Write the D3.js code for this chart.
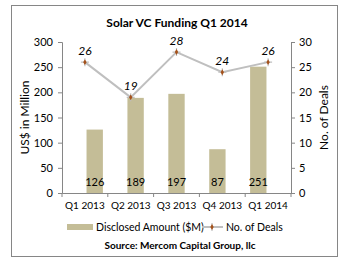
<!DOCTYPE html>
<html>
<head>
  <style>
    body { margin: 0; background: #fff; }
    text { font-family: "Lato", "Open Sans", sans-serif; fill: #000; }
  </style>
</head>
<body>
  <script src="https://d3js.org/d3.v7.min.js"></script>
  <script>
    var quarters = ["Q1 2013", "Q2 2013", "Q3 2013", "Q4 2013", "Q1 2014"];
    var amounts = [126, 189, 197, 87, 251];
    var deals = [26, 19, 28, 24, 26];
    var leftTicks = [0, 50, 100, 150, 200, 250, 300];
    var rightTicks = [0, 5, 10, 15, 20, 25, 30];

    var width = 347, height = 265;
    var svg = d3.select("body").append("svg")
        .attr("width", width)
        .attr("height", height);

    // outer chart border
    svg.append("rect")
        .attr("x", 11.5).attr("y", 5.5)
        .attr("width", 326).attr("height", 251)
        .attr("fill", "none").attr("stroke", "#868686");

    var pLeft = 62, pRight = 291, pTop = 42, pBottom = 193;

    var x = d3.scaleBand().domain(quarters).range([pLeft, pRight]).padding(0.6);
    var xOuter = d3.scaleBand().domain(quarters).range([pLeft, pRight]);
    var y = d3.scaleLinear().domain([0, 300]).range([pBottom, pTop]);
    var y2 = d3.scaleLinear().domain([0, 30]).range([pBottom, pTop]);

    var barColor = "#c4bd97", lineColor = "#bfbfbf", axisColor = "#868686";

    svg.append("text")
        .attr("x", 177).attr("y", 27)
        .attr("text-anchor", "middle")
        .style("font-size", "12px").style("font-weight", "bold")
        .text("Solar VC Funding Q1 2014");

    // bars
    svg.selectAll("rect.bar")
        .data(amounts)
      .enter().append("rect")
        .attr("class", "bar")
        .attr("x", (d, i) => x(quarters[i]))
        .attr("width", x.bandwidth())
        .attr("y", d => y(d))
        .attr("height", d => y(0) - y(d))
        .attr("fill", barColor);

    svg.selectAll("text.barlab")
        .data(amounts)
      .enter().append("text")
        .attr("class", "barlab")
        .attr("x", (d, i) => x(quarters[i]) + x.bandwidth() / 2)
        .attr("y", pBottom - 7)
        .attr("text-anchor", "middle")
        .style("font-size", "11px")
        .text(d => d);

    // axes
    var gl = svg.append("g").attr("transform", "translate(" + pLeft + ",0)")
        .call(d3.axisLeft(y).tickValues(leftTicks).tickSize(4).tickPadding(5));
    var gr = svg.append("g").attr("transform", "translate(" + pRight + ",0)")
        .call(d3.axisRight(y2).tickValues(rightTicks).tickSize(4).tickPadding(4));
    var gx = svg.append("g").attr("transform", "translate(0," + pBottom + ")")
        .call(d3.axisBottom(xOuter).tickSize(0).tickPadding(9));
    gx.selectAll(".tick").append("line")
        .attr("x1", xOuter.bandwidth() / 2).attr("x2", xOuter.bandwidth() / 2)
        .attr("y2", 4).attr("stroke", axisColor);
    gx.append("line").attr("x1", pLeft).attr("x2", pLeft).attr("y2", 4).attr("stroke", axisColor);

    [gl, gr, gx].forEach(g => {
      g.attr("font-family", null).attr("font-size", null);
      g.selectAll("path.domain").attr("stroke", axisColor);
      g.selectAll(".tick line").attr("stroke", axisColor);
      g.selectAll(".tick text").style("font-size", "11px").attr("fill", "#000");
    });
    gx.selectAll(".tick text").style("font-size", "10px");

    // axis titles
    svg.append("text")
        .attr("transform", "translate(29," + ((pTop + pBottom) / 2) + ") rotate(-90)")
        .attr("text-anchor", "middle")
        .style("font-size", "12px")
        .text("US$ in Million");
    svg.append("text")
        .attr("transform", "translate(328," + ((pTop + pBottom) / 2) + ") rotate(-90)")
        .attr("text-anchor", "middle")
        .style("font-size", "12px")
        .text("No. of Deals");

    // deals line
    var cx = (d, i) => xOuter(quarters[i]) + xOuter.bandwidth() / 2;
    svg.append("path")
        .datum(deals)
        .attr("fill", "none")
        .attr("stroke", lineColor)
        .attr("stroke-width", 2)
        .attr("d", d3.line().x(cx).y(d => y2(d)));

    function marker(g) {
      g.append("path").attr("d", "M-4,0H4M0,-4V4").attr("stroke", lineColor).attr("stroke-width", 1.2);
      g.append("path").attr("d", d3.symbol(d3.symbolDiamond, 10)()).attr("fill", "#a5521b");
    }
    svg.selectAll("g.pt")
        .data(deals)
      .enter().append("g")
        .attr("class", "pt")
        .attr("transform", (d, i) => "translate(" + cx(d, i) + "," + y2(d) + ")")
        .call(marker);

    svg.selectAll("text.deallab")
        .data(deals)
      .enter().append("text")
        .attr("class", "deallab")
        .attr("x", cx)
        .attr("y", d => y2(d) - 7)
        .attr("text-anchor", "middle")
        .style("font-size", "12px").style("font-style", "italic")
        .text(d => d);

    // legend
    var ly = 227;
    svg.append("rect").attr("x", 67).attr("y", ly - 3).attr("width", 26).attr("height", 6).attr("fill", barColor);
    svg.append("text").attr("x", 96).attr("y", ly + 4).style("font-size", "10.5px").text("Disclosed Amount ($M)");
    svg.append("line").attr("x1", 202).attr("x2", 223).attr("y1", ly).attr("y2", ly)
        .attr("stroke", lineColor).attr("stroke-width", 2);
    svg.append("g").attr("transform", "translate(212," + ly + ")").call(marker);
    svg.append("text").attr("x", 226).attr("y", ly + 4).style("font-size", "10.5px").text("No. of Deals");

    svg.append("text")
        .attr("x", 180).attr("y", 249)
        .attr("text-anchor", "middle")
        .style("font-size", "10px").style("font-weight", "bold")
        .text("Source: Mercom Capital Group, llc");
  </script>
</body>
</html>
